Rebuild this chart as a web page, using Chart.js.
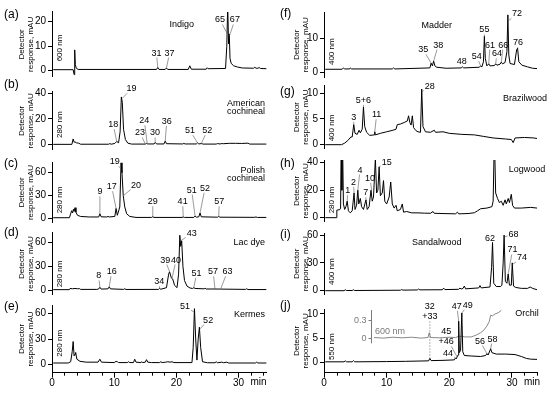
<!DOCTYPE html>
<html>
<head>
<meta charset="utf-8">
<script src="https://cdn.jsdelivr.net/npm/chart.js@4.4.1/dist/chart.umd.min.js"></script>
<style>
  html, body { margin: 0; padding: 0; background: #fff; }
  #wrap { position: relative; width: 550px; height: 396px; overflow: hidden; }
  #wrap div { position: absolute; }
  canvas { display: block; }
</style>
</head>
<body>
<div id="wrap"></div>
<script>
// ---- data: [retention time (min), signal (mAU)] ----
const indigo = [[0.2,0.4],[3.4,0.4],[3.55,-1.6],[3.65,8.5],[3.75,2.5],[3.9,1.0],[4.2,0.5],[16.8,0.5],[17.0,1.3],[17.2,0.5],
  [18.2,0.5],[18.4,1.1],[18.6,0.5],[21.9,0.5],[22.15,2.0],[22.4,0.6],[24.8,0.6],[24.95,1.2],[25.1,0.8],[27.9,0.9],
  [28.1,10],[28.25,27],[28.38,11],[28.5,15],[28.62,5],[28.8,3],[29.2,2],[29.8,1.5],[30.6,1.1],[32.4,1.0],
  [32.6,1.4],[32.8,1.0],[33.1,1.0],[33.3,1.3],[33.5,0.9],[34.5,0.8]];
const americanCochineal = [[0.2,0.3],[3.2,0.3],[3.4,4.5],[3.55,2.0],[3.7,2.2],[3.9,1.5],[4.3,1.2],[4.6,0.4],[9.1,0.4],[9.3,0.9],
  [9.5,0.4],[10.1,1.0],[10.4,2.5],[10.7,1.5],[10.95,10],[11.15,37],[11.3,33],[11.5,12],[11.8,4],[12.2,1.2],
  [12.8,0.5],[15.0,0.5],[15.2,1.0],[15.4,0.6],[16.4,0.6],[16.6,1.8],[16.8,0.6],[18.0,0.6],[18.2,2.8],[18.4,0.8],
  [21.0,0.6],[21.2,1.0],[21.4,0.6],[23.2,0.6],[23.4,1.4],[23.6,0.6],[24.0,0.9],[24.3,0.5],[26.4,0.5],[26.6,0.9],
  [27.0,0.6],[27.3,0.9],[27.6,0.8],[28.5,1.1],[29.5,1.1],[30.5,1.0],[31.5,1.2],[31.8,0.5],[34.5,0.5]];
const polishCochineal = [[0.2,0.8],[2.8,0.8],[3.0,6],[3.15,10],[3.3,7],[3.45,12],[3.55,9],[3.7,14],[3.85,8],[4.1,4],
  [4.6,2.5],[6.0,1.8],[7.5,1.8],[7.7,6],[7.9,2],[8.8,1.8],[9.0,2.5],[9.2,1.8],[10.1,2.5],[10.3,13],
  [10.5,4],[10.9,15],[11.1,73],[11.25,60],[11.45,30],[11.7,15],[12.0,6],[12.5,2.5],[13.5,1.2],[16.0,1.2],
  [16.2,2.2],[16.4,1.2],[20.9,1.2],[21.1,1.8],[21.3,1.2],[22.8,1.2],[23.0,3],[23.2,1.5],[23.6,2],[23.8,7],
  [24.0,2],[26.6,1.5],[26.8,2.5],[27.0,1.5],[32.5,1.3],[32.8,1.8],[33.0,1.2],[34.5,1.2]];
const lacDye = [[0.2,0.5],[2.8,0.5],[2.9,2],[3.3,1.6],[3.7,2],[4.1,1.6],[4.4,1.8],[4.6,0.8],[7.2,0.8],[7.5,1.3],
  [7.7,3.5],[7.9,1.2],[9.0,1.5],[9.2,4],[9.4,1.5],[11.5,0.8],[11.7,1.6],[11.9,0.7],[17.1,0.8],[17.3,2],
  [17.5,1],[18.4,3],[18.75,20],[18.9,23],[19.2,15],[19.4,14],[19.7,6],[20.1,3],[20.35,20],[20.55,69],
  [20.7,55],[20.85,62],[21.05,30],[21.3,12],[21.7,5],[22.2,2.5],[22.6,2],[22.8,3],[23.0,2],[24.5,1.5],
  [24.6,2.5],[24.8,1.3],[26.2,1.3],[27.1,1.2],[31.1,0.8],[31.3,1.6],[31.5,0.6],[34.5,0.6]];
const kermes = [[0.2,1.5],[2.6,1.5],[3.0,3],[3.25,15],[3.4,27],[3.55,10],[3.7,12],[3.8,14],[4.0,6],[4.5,3.5],
  [5.5,2.5],[7.4,2.5],[7.7,6],[7.95,2.5],[10.0,2],[10.3,3.5],[10.5,3],[10.7,2],[12.1,2],[12.3,3],
  [12.5,2],[13.1,2],[13.3,6],[13.5,2.5],[14.3,2],[14.45,3],[14.6,2],[15.0,2.5],[15.2,5.5],[15.4,2.5],
  [16.0,2],[17.3,2],[17.5,3],[17.7,2],[18.3,2.5],[18.6,3],[19.0,2.5],[19.3,3],[19.6,2],[22.5,2],
  [22.7,20],[22.9,66],[23.1,30],[23.3,5],[23.5,30],[23.7,44],[23.9,20],[24.2,3],[25.0,1.8],[26.2,1.8],
  [26.4,3],[26.6,1.8],[27.3,2.5],[27.6,1.8],[28.1,2.5],[28.4,1.5],[32.7,1.5],[32.9,2.5],[33.1,1.5],[34.5,1.5]];
const madder = [[0.2,0.8],[2.9,0.8],[3.1,1.2],[3.3,0.9],[4.1,0.9],[4.2,1.2],[4.4,0.9],[10.9,0.9],[11.1,1.2],[11.3,0.9],
  [16.9,1.2],[17.1,2.6],[17.3,1.8],[17.5,3.2],[17.7,1.8],[18.0,1.4],[19.5,1.1],[21.9,1.2],[22.1,1.5],[22.3,1.2],
  [24.8,1.4],[25.0,1.8],[25.2,1.5],[25.45,3],[25.6,10.5],[25.75,4],[26.0,1.8],[26.3,2.4],[26.5,1.8],[27.2,1.9],
  [27.4,2.4],[27.6,2.0],[28.1,2.3],[28.3,2.9],[28.5,2.4],[28.9,2.8],[29.2,6],[29.35,16.8],[29.5,5],[29.7,2.5],
  [30.4,2.2],[30.75,6.5],[30.9,7],[31.1,3],[31.6,2.0],[32.5,1.5],[33.3,1.1],[34.0,1.0]];
const brazilwood = [[0.2,0],[2.8,0],[3.3,0.3],[3.8,0.8],[4.3,1.5],[4.5,1.5],[4.75,3.9],[4.95,2.2],[5.3,2.0],[5.6,2.8],
  [5.8,2.3],[6.1,3.0],[6.3,7.3],[6.5,3.5],[6.8,2.4],[7.3,1.8],[8.0,1.9],[8.1,2.5],[8.2,1.9],[9.0,2.2],
  [10.0,2.5],[11.0,2.8],[11.5,3.0],[11.7,3.9],[12.2,4.0],[12.8,4.3],[13.3,4.6],[13.5,5.6],[13.7,4.3],[13.9,3.8],
  [14.1,5.6],[14.3,3.3],[14.7,2.7],[15.0,2.5],[15.4,2.4],[15.6,10.8],[15.8,3.5],[16.2,2.5],[17.0,2.4],[17.6,2.8],
  [17.8,2.4],[19.0,2.5],[20.0,2.2],[22.0,2.0],[24.0,1.9],[25.5,1.6],[27.0,1.3],[29.0,1.1],[29.9,1.0],[30.2,0.4],
  [30.5,1.3],[32.0,1.4],[33.5,1.3],[34.0,1.2]];
const logwood = [[0.2,0],[2.0,0],[2.05,5.5],[2.5,5.8],[2.65,7],[2.75,60],[2.85,20],[2.95,60],[3.1,10],[3.3,6],[3.5,8],
  [3.7,12],[3.9,5],[4.2,3.5],[4.5,5],[4.8,18],[4.95,6],[5.2,9],[5.4,20],[5.55,10],[5.8,14],
  [6.0,8],[6.3,6],[6.7,13],[6.9,6],[7.2,8],[7.5,20],[7.7,12],[7.9,15],[8.2,43],[8.4,18],
  [8.6,20],[8.8,37],[9.0,16],[9.3,18],[9.5,27],[9.7,12],[10.0,10],[10.4,15],[10.65,26],[10.9,10],
  [11.2,7],[11.5,9],[11.7,5],[12.2,6],[12.5,10],[12.7,4],[13.2,4.5],[14.0,3.5],[15.0,3.5],[16.0,3.3],
  [17.0,3.2],[17.4,4.5],[17.6,3.2],[19.0,3.0],[21.0,2.8],[21.3,4],[21.5,2.8],[23.0,3.0],[24.0,3.6],[24.5,5],
  [25.0,6.5],[26.0,7],[26.8,8],[27.0,12],[27.2,60],[27.4,18],[27.7,14],[28.0,11],[28.3,12],[28.6,9],
  [28.9,13],[29.1,10],[29.4,14],[29.6,11],[29.9,17],[30.1,9],[30.4,7],[31.5,7],[33.0,7.5],[34.0,7]];
const sandalwood = [[0.2,0],[3.2,0],[3.4,1],[3.6,0.2],[4.5,0.2],[4.7,1],[4.9,0.2],[12.2,0.5],[12.4,1.2],[12.6,0.6],
  [14.9,0.8],[15.1,1.8],[15.3,0.9],[18.9,1],[19.1,2.8],[19.3,1.2],[21.5,1.5],[21.7,2.8],[21.9,1.8],[22.2,2.5],
  [22.4,5],[22.6,2],[24.7,3],[24.9,5.5],[25.1,3],[26.5,4],[26.75,25],[26.9,52],[27.1,8],[27.5,4.5],
  [28.2,4.5],[28.4,6],[28.6,30],[28.75,60],[28.95,10],[29.2,8],[29.4,18],[29.6,6],[29.9,6],[30.05,30],
  [30.25,5],[30.6,3.5],[31.5,2.5],[32.5,2.5],[32.9,4],[33.3,2.5],[34.0,1]];
const orchil = [[0.2,0.1],[3.2,0.1],[3.4,0.3],[3.6,0.1],[4.5,0.1],[4.7,0.35],[4.9,0.1],[10,0.15],[13,0.2],[16.7,0.3],
  [16.9,0.8],[17.1,0.35],[19,0.4],[20.8,0.5],[21.0,0.9],[21.1,0.7],[21.25,1.1],[21.4,1.5],[21.5,8.5],[21.6,2],
  [21.8,2.5],[22.0,10.2],[22.15,2.2],[22.4,1.4],[23.5,1.3],[25.0,1.2],[25.8,1.4],[26.0,1.8],[26.2,1.5],[26.6,2.8],
  [26.8,2.0],[27.5,1.7],[29.0,1.7],[30.5,1.6],[31.5,1.2],[32.3,0.8],[33.0,0.65],[34.0,0.6]];
// inset trace of orchil at 600 nm (mAU)
const orchil600 = [[8.0,0.01],[9.5,0.0],[11,0.015],[12.5,0.005],[14,0.015],[15.5,0.0],[16.6,0.01],[16.8,0.09],[17.0,0.01],[18.5,0.005],
  [20,0.015],[21.0,0.01],[21.5,0.03],[22.0,0.03],[22.5,0.02],[23.5,0.02],[24.3,0.05],[25.0,0.09],[25.5,0.13],[26.0,0.2],
  [26.4,0.28],[26.6,0.38],[26.9,0.37],[27.3,0.40],[27.8,0.42],[28.3,0.46]];

const traces = [indigo, americanCochineal, polishCochineal, lacDye, kermes, madder, brazilwood, logwood, sandalwood, orchil];
const dyes = ['Indigo', 'American\ncochineal', 'Polish\ncochineal', 'Lac dye', 'Kermes',
  'Madder', 'Brazilwood', 'Logwood', 'Sandalwood', 'Orchil'];
const panelLetters = ['(a)', '(b)', '(c)', '(d)', '(e)', '(f)', '(g)', '(h)', '(i)', '(j)'];
const wavelengths = ['600 nm', '280 nm', '280 nm', '280 nm', '280 nm', '400 nm', '400 nm', '280 nm', '400 nm', '550 nm'];
const yTicks = [[0, 10, 20], [0, 20, 40], [0, 30, 60], [0, 30, 60], [0, 30, 60],
  [0, 10], [0, 5, 10], [0, 20, 40], [0, 30, 60], [0, 5, 10]];
const xTicks = [0, 10, 20, 30];
const insetTicks = [0, 0.3];
const peakNames = [
  ['31', '37', '65', '67'],
  ['19', '18', '24', '23', '30', '36', '51', '52'],
  ['19', '9', '17', '20', '29', '41', '51', '52', '57'],
  ['43', '39', '40', '8', '16', '34', '51', '57', '63'],
  ['51', '52'],
  ['35', '38', '48', '54', '55', '61', '64', '66', '72', '76'],
  ['28', '5+6', '3', '11'],
  ['15', '4', '2', '10', '1', '7'],
  ['62', '68', '71', '74'],
  ['32\n+33', '45\n+46', '47', '49', '44', '56', '58']
];

// ---- layout: page pixels for the plot box, axis ranges, label placement ----
const FONT = '"Liberation Sans", Arial, sans-serif';
const cols = [
  { left: 0, axisW: 52, padRight: 8.4, xMax: 34.5, titleOff: [30, 21.5], letterX: 4 },
  { left: 275, axisW: 49, padRight: 13, xMax: 34, titleOff: [27, 18.5], letterX: 5 }
];
const layout = [
  { col: 0, band: [0, 78], plot: [11.9, 76.8], y: [-2.5, 24], letterY: 15, waveY: 48,
    nameAt: [20.85, 18.7], nameAlign: 'center',
    marks: [[16.8, 7.2, 17.0, 1.3], [18.9, 7.2, 18.4, 1.1], [27.0, 20.7, 28.2, 15], [29.4, 20.7, 28.5, 14]] },
  { col: 0, band: [78, 152], plot: [91.8, 149.9], y: [-4, 41], letterY: 84.7, waveY: 124.7,
    nameAt: [34.25, 32.3], nameAlign: 'right',
    marks: [[12.8, 43.4, 11.3, 36], [9.85, 15.5, 10.4, 2.5], [14.85, 18.6, 15.3, 0.9], [14.15, 9.1, 15.0, 0.6],
      [16.55, 9.1, 16.6, 1.8], [18.45, 18.1, 18.2, 2.8], [22.2, 10.9, 23.4, 1.4], [24.95, 10.9, 24.0, 0.9]] },
  { col: 0, band: [152, 227], plot: [162.1, 222.9], y: [-6, 74], letterY: 164, waveY: 200,
    nameAt: [34.25, 62.6], nameAlign: 'right',
    marks: [[10.1, 74.5, 11.0, 66], [7.7, 35, 7.7, 6], [9.6, 41.6, 10.3, 13], [13.5, 43.8, 11.5, 30],
      [16.2, 21.8, 16.2, 2.2], [21.0, 21.8, 21.1, 1.8], [22.45, 37.2, 23.0, 3], [24.6, 39.5, 23.8, 7], [26.9, 21.8, 26.8, 2.5]] },
  { col: 0, band: [227, 300], plot: [232.9, 294.8], y: [-6, 72], letterY: 232.3, waveY: 274,
    nameAt: [34.25, 60], nameAlign: 'right',
    marks: [[22.45, 71.5, 20.7, 62], [18.2, 37.8, 18.9, 23], [19.95, 37.8, 19.3, 15], [7.5, 17.7, 7.7, 3.5],
      [9.6, 23, 9.2, 4], [17.25, 10.5, 17.3, 2], [23.25, 21, 22.8, 3], [25.9, 23, 26.2, 1.3], [28.2, 23, 27.1, 1.2]] },
  { col: 0, band: [300, 396], plot: [305.3, 372.7], y: [-10, 70], letterY: 306.7, waveY: 343.3, xAxis: true,
    nameAt: [34.25, 58.5], nameAlign: 'right',
    marks: [[21.4, 68.3, 22.85, 62], [25.1, 52.5, 23.8, 42]] },
  { col: 1, band: [0, 78], plot: [12.5, 77.1], y: [-1.5, 17.5], letterY: 14, waveY: 51.7,
    nameAt: [18.0, 13.8], nameAlign: 'center',
    marks: [[15.85, 6.5, 17.1, 2.6], [18.25, 7.9, 17.5, 3.2], [22.0, 3.0, 22.1, 1.5], [24.4, 4.5, 25.0, 1.8],
      [25.6, 12.4, 25.6, 10.5], [26.5, 7.9, 26.3, 2.4], [27.6, 5.3, 27.4, 2.4], [28.6, 7.9, 28.3, 2.9],
      [30.8, 17.1, 29.4, 15], [30.95, 8.6, 30.9, 7]] },
  { col: 1, band: [78, 152], plot: [85.4, 148.8], y: [-0.8, 11.5], letterY: 92, waveY: 128,
    nameAt: [32.1, 9.05], nameAlign: 'center',
    marks: [[16.9, 11.3, 15.7, 10.3], [6.3, 8.6, 6.3, 7.3], [4.75, 5.3, 4.75, 3.9], [8.4, 5.8, 8.1, 2.5]] },
  { col: 1, band: [152, 227], plot: [160, 221.8], y: [-3, 42], letterY: 163.3, waveY: 200,
    nameAt: [32.4, 35.2], nameAlign: 'center',
    marks: [[10.0, 40, 8.8, 37], [5.75, 34.7, 5.4, 20], [4.7, 25.7, 4.8, 18], [7.35, 28.7, 7.6, 20],
      [3.8, 19.6, 3.7, 12], [6.65, 18.2, 6.7, 13]] },
  { col: 1, band: [227, 300], plot: [233.2, 294.4], y: [-4, 62], letterY: 235, waveY: 271.7,
    nameAt: [18.0, 52.2], nameAlign: 'center',
    marks: [[26.5, 55.8, 26.9, 52], [30.25, 60.8, 28.8, 58], [30.1, 43.9, 29.4, 18], [31.6, 35.6, 30.05, 28]] },
  { col: 1, band: [300, 396], plot: [309.1, 372.7], y: [-2.15, 11], letterY: 306, waveY: 346.7, xAxis: true,
    nameAt: [32.4, 10.0], nameAlign: 'center',
    marks: [[16.9, 10.45, 16.9, 0.8, 'dash'], [19.5, 5.25, 21.25, 1.1], [21.2, 11.6, 21.5, 8.5], [22.95, 11.8, 22.0, 10.2],
      [19.8, 1.9, 21.0, 0.9], [24.9, 4.4, 26.0, 1.8], [26.9, 4.8, 26.6, 2.8]],
    inset: { axisT: 7.46, range: [-0.573, 0.481], axisSpan: [-0.086, 0.465], labelAt: [8.15, 6.3] } }
];

function leader(ctx, cx, cy, w, h, tx, ty) {
  const dx = tx - cx, dy = ty - cy;
  let s = Infinity;
  if (dx) s = Math.min(s, (w / 2 + 1) / Math.abs(dx));
  if (dy) s = Math.min(s, (h / 2 + 1) / Math.abs(dy));
  if (s >= 1) return;
  ctx.beginPath();
  ctx.moveTo(cx + dx * s, cy + dy * s);
  ctx.lineTo(tx, ty);
  ctx.stroke();
}

const decor = {
  id: 'decor',
  afterDraw(chart, args, o) {
    const i = o.index, p = layout[i], c = cols[p.col];
    const ctx = chart.ctx, xs = chart.scales.x, ys = chart.scales.y, ca = chart.chartArea;
    ctx.save();
    ctx.fillStyle = '#000';

    // panel letter
    ctx.font = '12px ' + FONT;
    ctx.textAlign = 'left';
    ctx.textBaseline = 'middle';
    ctx.fillText(panelLetters[i], c.letterX, p.letterY - p.band[0]);

    // y axis title, two rotated lines
    ctx.save();
    ctx.font = '8px ' + FONT;
    ctx.textAlign = 'center';
    const midY = (ca.top + ca.bottom) / 2;
    ctx.translate(ca.left - c.titleOff[0], midY);
    ctx.rotate(-Math.PI / 2);
    ctx.fillText('Detector', 0, 0);
    ctx.fillText('response, mAU', 0, c.titleOff[0] - c.titleOff[1]);
    ctx.restore();

    // wavelength
    ctx.save();
    ctx.font = '8px ' + FONT;
    ctx.textAlign = 'center';
    ctx.translate(ca.left + 7.5, p.waveY - p.band[0]);
    ctx.rotate(-Math.PI / 2);
    ctx.fillText(wavelengths[i], 0, 0);
    ctx.restore();

    // dye name
    ctx.font = '9px ' + FONT;
    ctx.textAlign = p.nameAlign;
    const nx = xs.getPixelForValue(p.nameAt[0]), ny = ys.getPixelForValue(p.nameAt[1]);
    dyes[i].split('\n').forEach((line, k) => ctx.fillText(line, nx, ny + k * 8));

    // peak numbers with leader lines
    ctx.textAlign = 'center';
    ctx.strokeStyle = '#555';
    ctx.lineWidth = 0.6;
    peakNames[i].forEach((name, k) => {
      const m = p.marks[k];
      const lines = name.split('\n');
      const cx = xs.getPixelForValue(m[0]), cy = ys.getPixelForValue(m[1]);
      const lh = 10;
      let w = 0;
      lines.forEach((l, j) => {
        w = Math.max(w, ctx.measureText(l).width);
        ctx.fillText(l, cx, cy + (j - (lines.length - 1) / 2) * lh);
      });
      const h = lines.length * lh - 3;
      ctx.setLineDash(m[4] === 'dash' ? [1.5, 1.5] : []);
      leader(ctx, cx, cy, w, h, xs.getPixelForValue(m[2]), ys.getPixelForValue(m[3]));
    });
    ctx.setLineDash([]);

    // minor ticks and unit on the time axis
    if (p.xAxis) {
      ctx.strokeStyle = '#000';
      ctx.lineWidth = 1;
      ctx.beginPath();
      for (let t = 2; t <= c.xMax; t += 2) {
        if (t % 10 === 0) continue;
        const px = Math.round(xs.getPixelForValue(t)) + 0.5;
        ctx.moveTo(px, ca.bottom);
        ctx.lineTo(px, ca.bottom + 3);
      }
      ctx.stroke();
      ctx.font = '10px ' + FONT;
      ctx.textAlign = 'center';
      ctx.textBaseline = 'top';
      ctx.fillText('min', xs.getPixelForValue(33.2), ca.bottom + 5);
    }

    // inset axis for the 600 nm trace
    if (p.inset) {
      const y2 = chart.scales.y2, g = '#7a7a7a';
      const ax = Math.round(xs.getPixelForValue(p.inset.axisT)) + 0.5;
      ctx.strokeStyle = g;
      ctx.fillStyle = g;
      ctx.lineWidth = 1;
      ctx.beginPath();
      ctx.moveTo(ax, y2.getPixelForValue(p.inset.axisSpan[0]));
      ctx.lineTo(ax, y2.getPixelForValue(p.inset.axisSpan[1]));
      insetTicks.forEach(v => {
        const py = Math.round(y2.getPixelForValue(v)) + 0.5;
        ctx.moveTo(ax - 3, py);
        ctx.lineTo(ax, py);
      });
      ctx.stroke();
      ctx.font = '9px ' + FONT;
      ctx.textAlign = 'right';
      ctx.textBaseline = 'middle';
      insetTicks.forEach(v => ctx.fillText(String(v), ax - 5, y2.getPixelForValue(v)));
      ctx.textAlign = 'left';
      ctx.fillText(wavelengths[0], xs.getPixelForValue(p.inset.labelAt[0]), ys.getPixelForValue(p.inset.labelAt[1]));
    }
    ctx.restore();
  }
};

const wrap = document.getElementById('wrap');
layout.forEach((p, i) => {
  const c = cols[p.col];
  const h = p.band[1] - p.band[0];
  const xAxisH = p.xAxis ? 20 : 0;
  const box = document.createElement('div');
  box.style.left = c.left + 'px';
  box.style.top = p.band[0] + 'px';
  const canvas = document.createElement('canvas');
  canvas.width = 275;
  canvas.height = h;
  box.appendChild(canvas);
  wrap.appendChild(box);

  const datasets = [{
    data: traces[i].map(d => ({ x: d[0], y: d[1] })),
    borderColor: '#000',
    borderWidth: 1,
    pointRadius: 0,
    tension: 0
  }];
  const scales = {
    x: {
      type: 'linear', min: 0, max: c.xMax, display: !!p.xAxis,
      afterFit: s => { s.height = xAxisH; s.paddingLeft = 0; s.paddingRight = 0; },
      afterBuildTicks: s => { s.ticks = xTicks.map(v => ({ value: v })); },
      grid: { drawOnChartArea: false, tickLength: 5, color: '#000' },
      border: { color: '#000', width: 1 },
      ticks: { color: '#000', font: { family: FONT, size: 10 }, padding: 0, maxRotation: 0, autoSkip: false }
    },
    y: {
      min: p.y[0], max: p.y[1],
      afterFit: s => { s.width = c.axisW; s.paddingTop = 0; s.paddingBottom = 0; },
      afterBuildTicks: s => { s.ticks = yTicks[i].map(v => ({ value: v })); },
      grid: { drawOnChartArea: false, tickLength: 4, color: '#000' },
      border: { color: '#000', width: 1 },
      ticks: { color: '#000', font: { family: FONT, size: 10 }, padding: 2, autoSkip: false, callback: v => String(v) }
    }
  };
  if (p.inset) {
    datasets.push({
      data: orchil600.map(d => ({ x: d[0], y: d[1] })),
      yAxisID: 'y2',
      borderColor: '#7a7a7a',
      borderWidth: 0.9,
      pointRadius: 0,
      tension: 0
    });
    scales.y2 = { display: false, min: p.inset.range[0], max: p.inset.range[1] };
  }

  new Chart(canvas, {
    type: 'line',
    data: { datasets },
    options: {
      responsive: false,
      animation: false,
      devicePixelRatio: 1,
      layout: {
        padding: {
          left: 0,
          right: c.padRight,
          top: p.plot[0] - p.band[0],
          bottom: p.band[1] - p.plot[1] - xAxisH
        }
      },
      plugins: { legend: { display: false }, tooltip: { enabled: false }, decor: { index: i } },
      scales
    },
    plugins: [decor]
  });
});
</script>
</body>
</html>
